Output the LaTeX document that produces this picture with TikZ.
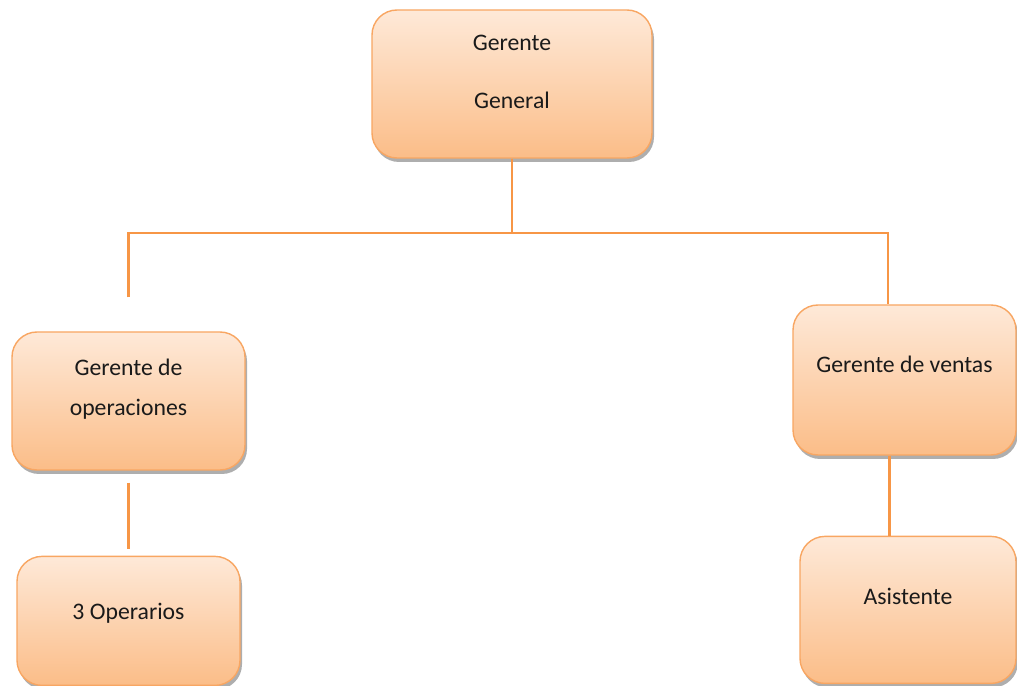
\documentclass[tikz,border=0pt]{standalone}
\usepackage{fontspec}
\setmainfont{Carlito}
\usepackage{tikz}
\usetikzlibrary{positioning,shadows}
\definecolor{orgline}{HTML}{F79646}
\definecolor{orgtop}{HTML}{FEE9D8}
\definecolor{orgbot}{HTML}{FBBD88}
\definecolor{orgtext}{HTML}{1A1A1A}
\newcommand{\orgtext}[2]{\begin{tabular}{@{}c@{}}#1\\[#2]\end{tabular}}

\begin{document}
\begin{tikzpicture}[
node distance=1.6cm, link/.style = {draw=orgline, line width=1.7pt},
orgbox/.style={rectangle, rounded corners=0.5cm, draw=orgline!85, line width=0.8pt,
  top color=orgtop, bottom color=orgbot, text=orgtext,
  drop shadow={shadow xshift=0.04cm, shadow yshift=-0.08cm, opacity=0.45, fill=black!70}}]
\tikzstyle{every node}=[font=\fontsize{13.5}{16}\selectfont]
\useasboundingbox (0,0) rectangle (20.34,-13.72);
\clip (0,0) rectangle (20.34,-13.72);

\node[orgbox, minimum width=5.6cm, minimum height=2.96cm] (gg) at (10.24,-1.68) {\orgtext{Gerente\\[0.6cm]General}{0.4cm}};
\node[orgbox, minimum width=4.66cm, minimum height=2.76cm] (op) at (2.57,-8.02) {\orgtext{Gerente de\\[0.24cm]operaciones}{0.44cm}};
\node[orgbox, minimum width=4.46cm, minimum height=3.0cm] (ve) at (18.09,-7.6) {\orgtext{Gerente de ventas}{0.52cm}};
\node[orgbox, minimum width=4.46cm, minimum height=2.58cm] (ops) [below=1.7cm of op] {\orgtext{3 Operarios}{0.3cm}};
\node[orgbox, minimum width=4.32cm, minimum height=2.94cm, xshift=0.07cm] (as) [below=of ve] {\orgtext{Asistente}{0.46cm}};

\coordinate (hub) at (10.24,-4.66);
\coordinate (vetop) at ([xshift=-0.33cm]ve.north);
\coordinate (vebot) at ([xshift=-0.3cm]ve.south);
\draw[link] (gg) -- (hub);
\draw[link, shorten <=0.68cm] (op.north) |- (vetop |- hub) -- (vetop);
\draw[link, shorten <=0.24cm, shorten >=0.14cm] (op) -- (ops);
\draw[link] (vebot) -- (vebot |- as.north);
\end{tikzpicture}
\end{document}
